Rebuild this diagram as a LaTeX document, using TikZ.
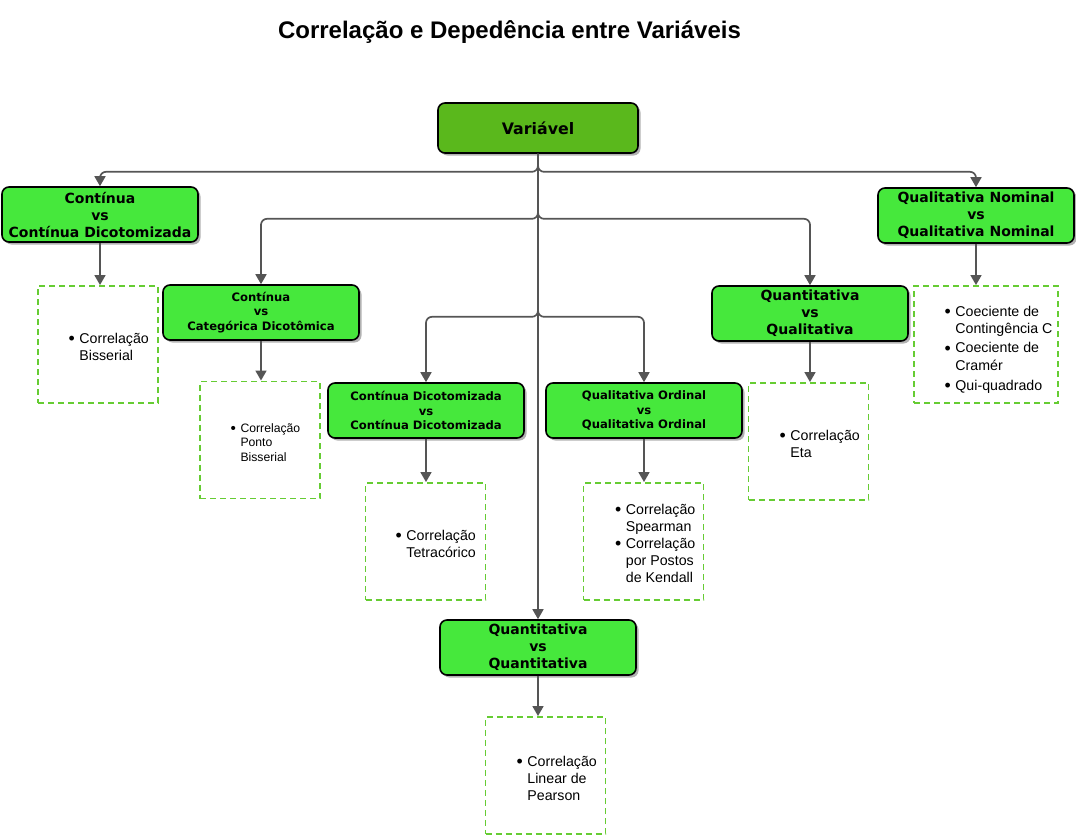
\documentclass[tikz,border=0pt]{standalone}
\usepackage{fontspec}
\setmainfont{Liberation Sans}
\newfontfamily\caixafont{DejaVu Sans}
\usepackage{tikz}
\usetikzlibrary{positioning, arrows.meta, shadows}

\definecolor{verde}{HTML}{46E83C}
\definecolor{verdeescuro}{HTML}{5AB81C}
\definecolor{tracejado}{HTML}{66CC33}
\definecolor{seta}{HTML}{555555}

\newcommand{\pto}{\raisebox{-1.3pt}{\scalebox{1.25}{\textbullet}}}

\begin{document}
\begin{tikzpicture}[x=1pt, y=-1pt,
  tipo/.style = {rectangle, rounded corners=7pt, draw=black,
    line width=1.6pt, fill=verde, align=center, inner sep=0pt,
    minimum width=196pt, minimum height=55pt,
    font=\caixafont\bfseries\fontsize{14}{17}\selectfont,
    drop shadow={shadow xshift=2.5pt, shadow yshift=-2.5pt,
      fill=black, opacity=.3}},
  menor/.style = {font=\caixafont\bfseries\fontsize{11.6}{14.5}\selectfont},
  lista/.style = {rectangle, draw=tracejado, line width=1.9pt,
    dash pattern=on 6pt off 4pt, minimum width=120pt, minimum height=117pt},
  itens/.style = {anchor=west, inner sep=0pt,
    font=\fontsize{14.2}{17}\selectfont},
  liga/.style = {draw=seta, line width=1.7pt, rounded corners=6pt,
    -{Triangle[length=10pt,width=11pt]}}]

  \useasboundingbox (0,0) rectangle (1076,836);

  \node (titulo) at (509.5,32)
    {\fontsize{24}{28}\selectfont\bfseries Correlação e Depedência entre Variáveis};

  % caixas de tipos
  \node[tipo, fill=verdeescuro, minimum width=200pt, minimum height=50pt,
    font=\caixafont\bfseries\fontsize{15.8}{19}\selectfont] (var) at (538,128) {Variável};
  \node[tipo] (cc) at (100,214.5) {Contínua\\ vs\\ Contínua Dicotomizada};
  \node[tipo] (nn) at (976,215.5) {Qualitativa Nominal\\ vs\\ Qualitativa Nominal};
  \node[tipo, menor] (ccat) at (261,312.5) {Contínua\\ vs\\ Categórica Dicotômica};
  \node[tipo] (ql) at (810,313.5) {Quantitativa\\ vs\\ Qualitativa};
  \node[tipo, menor] (dd) at (426,410.5) {Contínua Dicotomizada\\ vs\\ Contínua Dicotomizada};
  \node[tipo, menor] (oo) at (644,410.5) {Qualitativa Ordinal\\ vs\\ Qualitativa Ordinal};
  \node[tipo] (qq) at (538,647.5) {Quantitativa\\ vs\\ Quantitativa};

  % caixas tracejadas
  \node[lista] (la) at (98,344.5) {};
  \node[lista] (lb) at (260,440) {};
  \node[lista] (lc) at (425.5,541.5) {};
  \node[lista] (ld) at (643.5,541.5) {};
  \node[lista] (le) at (808.5,441.5) {};
  \node[lista, minimum width=144pt] (lf) at (986,344.5) {};
  \node[lista] (lg) at (545.5,775.5) {};

  \node[itens] (ta) at (68.5,348.5)
    {\begin{tabular}{@{}l@{\hspace{4.5pt}}l@{}}\pto & Correlação\\ & Bisserial\end{tabular}};
  \node[itens, font=\fontsize{12.2}{14.5}\selectfont] (tb) at (230.5,444)
    {\begin{tabular}{@{}l@{\hspace{4.5pt}}l@{}}\pto & Correlação\\ & Ponto\\ & Bisserial\end{tabular}};
  \node[itens] (tc) at (395.5,545.5)
    {\begin{tabular}{@{}l@{\hspace{4.5pt}}l@{}}\pto & Correlação\\ & Tetracórico\end{tabular}};
  \node[itens] (td) at (615,545)
    {\begin{tabular}{@{}l@{\hspace{4.5pt}}l@{}}\pto & Correlação\\ & Spearman\\
      \pto & Correlação\\ & por Postos\\ & de Kendall\end{tabular}};
  \node[itens] (te) at (779.5,445.5)
    {\begin{tabular}{@{}l@{\hspace{4.5pt}}l@{}}\pto & Correlação\\ & Eta\end{tabular}};
  \node[itens] (tf) at (944.5,350)
    {\begin{tabular}{@{}l@{\hspace{4.5pt}}l@{}}\pto & Coeciente de\\ & Contingência C\\[2.5pt]
      \pto & Coeciente de\\[1pt] & Cramér\\[2.5pt] \pto & Qui-quadrado\end{tabular}};
  \node[itens] (tg) at (516.5,780)
    {\begin{tabular}{@{}l@{\hspace{4.5pt}}l@{}}\pto & Correlação\\ & Linear de\\ & Pearson\end{tabular}};

  % ligacoes
  \draw[liga] (var.south) -- ++(0,18) -| (cc.north);
  \draw[liga] (var.south) -- ++(0,18) -| (nn.north);
  \draw[liga] (var.south) -- ++(0,65) -| (ccat.north);
  \draw[liga] (var.south) -- ++(0,65) -| (ql.north);
  \draw[liga] (var.south) -- ++(0,163) -| (dd.north);
  \draw[liga] (var.south) -- ++(0,163) -| (oo.north);
  \draw[liga] (var.south) -- (qq.north);

  \draw[liga] (cc.south) -- (cc.south |- la.north);
  \draw[liga] (ccat.south) -- (ccat.south |- lb.north);
  \draw[liga] (dd.south) -- (dd.south |- lc.north);
  \draw[liga] (oo.south) -- (oo.south |- ld.north);
  \draw[liga] (ql.south) -- (ql.south |- le.north);
  \draw[liga] (nn.south) -- (nn.south |- lf.north);
  \draw[liga] (qq.south) -- (qq.south |- lg.north);
\end{tikzpicture}
\end{document}
